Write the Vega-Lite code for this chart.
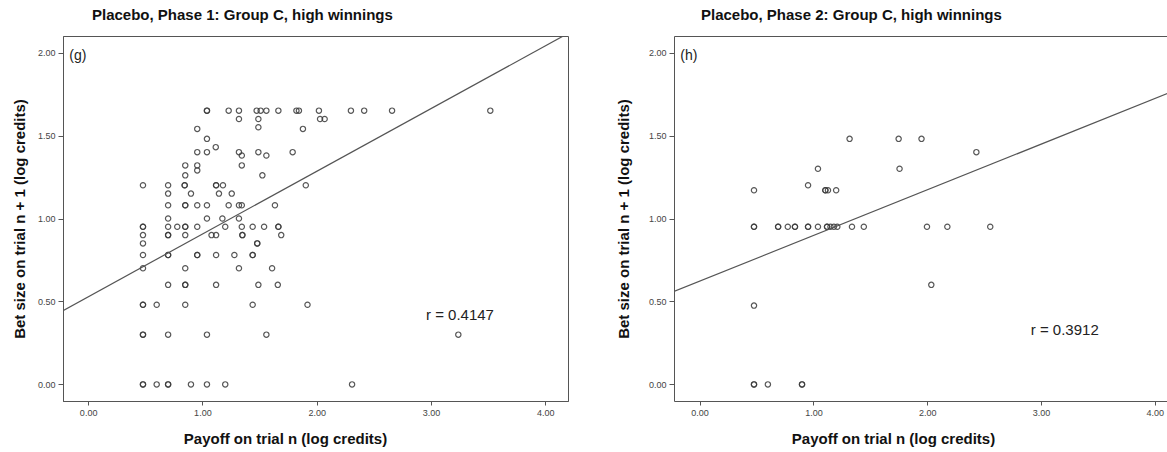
{
  "$schema": "https://vega.github.io/schema/vega-lite/v6.json",
  "padding": {"left": 11, "top": 7, "right": 0, "bottom": 0},
  "spacing": 47,
  "config": {
    "font": "Liberation Sans",
    "view": {"stroke": "#555", "strokeWidth": 1},
    "axis": {
      "labelFont": "Liberation Sans", "labelFontSize": 9, "labelColor": "#444",
      "titleFont": "Liberation Sans", "titleFontSize": 15, "titleFontWeight": "bold", "titleColor": "#111",
      "domainColor": "#555", "tickColor": "#555", "tickSize": 5, "grid": false, "labelPadding": 3
    },
    "title": {"font": "Liberation Sans", "fontSize": 15, "fontWeight": "bold", "color": "#111", "anchor": "start", "frame": "group", "offset": 13}
  },
  "datasets": {
    "g": [
      {"x": 0.48, "y": 0}, {"x": 0.48, "y": 0}, {"x": 0.60, "y": 0}, {"x": 0.70, "y": 0}, {"x": 0.70, "y": 0}, {"x": 0.90, "y": 0}, {"x": 1.04, "y": 0}, {"x": 1.20, "y": 0}, {"x": 2.31, "y": 0},
      {"x": 0.48, "y": 0.30}, {"x": 0.48, "y": 0.30}, {"x": 0.70, "y": 0.30}, {"x": 1.04, "y": 0.30}, {"x": 1.56, "y": 0.30}, {"x": 3.24, "y": 0.30},
      {"x": 0.48, "y": 0.48}, {"x": 0.48, "y": 0.48}, {"x": 0.60, "y": 0.48}, {"x": 0.85, "y": 0.48}, {"x": 1.44, "y": 0.48}, {"x": 1.92, "y": 0.48},
      {"x": 0.70, "y": 0.60}, {"x": 0.85, "y": 0.60}, {"x": 0.85, "y": 0.60}, {"x": 1.12, "y": 0.60}, {"x": 1.49, "y": 0.60}, {"x": 1.66, "y": 0.60},
      {"x": 0.48, "y": 0.70}, {"x": 0.85, "y": 0.70}, {"x": 1.32, "y": 0.70}, {"x": 1.61, "y": 0.70},
      {"x": 0.48, "y": 0.78}, {"x": 0.70, "y": 0.78}, {"x": 0.70, "y": 0.78}, {"x": 0.955, "y": 0.78}, {"x": 0.955, "y": 0.78}, {"x": 1.12, "y": 0.78}, {"x": 1.28, "y": 0.78}, {"x": 1.44, "y": 0.78}, {"x": 1.44, "y": 0.78},
      {"x": 0.48, "y": 0.85}, {"x": 1.48, "y": 0.85}, {"x": 1.48, "y": 0.85},
      {"x": 0.48, "y": 0.90}, {"x": 0.70, "y": 0.90}, {"x": 0.70, "y": 0.90}, {"x": 0.85, "y": 0.90}, {"x": 1.08, "y": 0.90}, {"x": 1.12, "y": 0.90}, {"x": 1.35, "y": 0.90}, {"x": 1.35, "y": 0.90}, {"x": 1.69, "y": 0.90},
      {"x": 0.48, "y": 0.95}, {"x": 0.48, "y": 0.95}, {"x": 0.70, "y": 0.95}, {"x": 0.78, "y": 0.95}, {"x": 0.85, "y": 0.95}, {"x": 0.85, "y": 0.95}, {"x": 0.955, "y": 0.95}, {"x": 1.20, "y": 0.95}, {"x": 1.345, "y": 0.95}, {"x": 1.44, "y": 0.95}, {"x": 1.54, "y": 0.95}, {"x": 1.665, "y": 0.95}, {"x": 1.665, "y": 0.95},
      {"x": 0.70, "y": 1.0}, {"x": 1.04, "y": 1.0}, {"x": 1.175, "y": 1.0}, {"x": 1.32, "y": 1.0},
      {"x": 0.70, "y": 1.08}, {"x": 0.85, "y": 1.08}, {"x": 0.85, "y": 1.08}, {"x": 0.955, "y": 1.08}, {"x": 1.04, "y": 1.08}, {"x": 1.23, "y": 1.08}, {"x": 1.32, "y": 1.08}, {"x": 1.345, "y": 1.08}, {"x": 1.635, "y": 1.08},
      {"x": 0.70, "y": 1.15}, {"x": 0.90, "y": 1.15}, {"x": 1.145, "y": 1.15}, {"x": 1.257, "y": 1.15},
      {"x": 0.48, "y": 1.20}, {"x": 0.70, "y": 1.20}, {"x": 0.845, "y": 1.20}, {"x": 0.845, "y": 1.20}, {"x": 1.12, "y": 1.20}, {"x": 1.12, "y": 1.20}, {"x": 1.18, "y": 1.20}, {"x": 1.905, "y": 1.20},
      {"x": 0.85, "y": 1.26}, {"x": 1.525, "y": 1.26},
      {"x": 0.85, "y": 1.32}, {"x": 0.955, "y": 1.32}, {"x": 0.955, "y": 1.29}, {"x": 1.345, "y": 1.32},
      {"x": 1.345, "y": 1.38}, {"x": 1.56, "y": 1.38},
      {"x": 0.955, "y": 1.40}, {"x": 1.04, "y": 1.40}, {"x": 1.32, "y": 1.40}, {"x": 1.49, "y": 1.40}, {"x": 1.79, "y": 1.40},
      {"x": 1.117, "y": 1.43}, {"x": 1.04, "y": 1.48},
      {"x": 0.955, "y": 1.54}, {"x": 1.88, "y": 1.54}, {"x": 1.49, "y": 1.55},
      {"x": 1.32, "y": 1.60}, {"x": 1.49, "y": 1.60}, {"x": 2.03, "y": 1.60}, {"x": 2.07, "y": 1.60},
      {"x": 1.04, "y": 1.65}, {"x": 1.04, "y": 1.65}, {"x": 1.23, "y": 1.65}, {"x": 1.32, "y": 1.65}, {"x": 1.475, "y": 1.65}, {"x": 1.51, "y": 1.65}, {"x": 1.56, "y": 1.65}, {"x": 1.665, "y": 1.65}, {"x": 1.823, "y": 1.65}, {"x": 1.845, "y": 1.65}, {"x": 2.02, "y": 1.65}, {"x": 2.30, "y": 1.65}, {"x": 2.416, "y": 1.65}, {"x": 2.66, "y": 1.65}, {"x": 3.52, "y": 1.65}
    ],
    "h": [
      {"x": 1.318, "y": 1.48}, {"x": 1.749, "y": 1.48}, {"x": 1.95, "y": 1.48}, {"x": 2.432, "y": 1.40},
      {"x": 1.04, "y": 1.30}, {"x": 1.757, "y": 1.30}, {"x": 0.953, "y": 1.20},
      {"x": 0.478, "y": 1.17}, {"x": 1.105, "y": 1.17}, {"x": 1.105, "y": 1.17}, {"x": 1.128, "y": 1.17}, {"x": 1.20, "y": 1.17},
      {"x": 0.478, "y": 0.95}, {"x": 0.478, "y": 0.95}, {"x": 0.69, "y": 0.95}, {"x": 0.69, "y": 0.95}, {"x": 0.775, "y": 0.95}, {"x": 0.838, "y": 0.95}, {"x": 0.838, "y": 0.95}, {"x": 0.953, "y": 0.95}, {"x": 0.953, "y": 0.95}, {"x": 1.04, "y": 0.95}, {"x": 1.12, "y": 0.95}, {"x": 1.12, "y": 0.95}, {"x": 1.15, "y": 0.95}, {"x": 1.18, "y": 0.95}, {"x": 1.21, "y": 0.95}, {"x": 1.339, "y": 0.95}, {"x": 1.443, "y": 0.95}, {"x": 1.998, "y": 0.95}, {"x": 2.177, "y": 0.95}, {"x": 2.554, "y": 0.95},
      {"x": 2.036, "y": 0.60}, {"x": 0.478, "y": 0.475},
      {"x": 0.478, "y": 0}, {"x": 0.478, "y": 0}, {"x": 0.60, "y": 0}, {"x": 0.90, "y": 0}, {"x": 0.90, "y": 0}
    ],
    "gline": [{"x": -0.22, "y": 0.4448}, {"x": 4.2, "y": 2.1156}],
    "hline": [{"x": -0.225, "y": 0.5606}, {"x": 4.12, "y": 1.7559}],
    "glab": [{"x": -0.165, "y": 1.98, "t": "(g)", "s": 14}, {"x": 2.957, "y": 0.42, "t": "r = 0.4147", "s": 15}],
    "hlab": [{"x": -0.17, "y": 1.98, "t": "(h)", "s": 14}, {"x": 2.91, "y": 0.326, "t": "r = 0.3912", "s": 15}]
  },
  "hconcat": [
    {
      "title": {"text": "Placebo, Phase 1: Group C, high winnings", "dx": 29},
      "width": 505,
      "height": 365,
      "layer": [
        {
          "data": {"name": "g"},
          "mark": {"type": "point", "shape": "circle", "filled": false, "size": 28, "stroke": "#3a3a3a", "strokeWidth": 1.2, "opacity": 0.85},
          "encoding": {
            "x": {"field": "x", "type": "quantitative", "scale": {"domain": [-0.22, 4.2], "nice": false, "zero": false},
                  "axis": {"values": [0, 1, 2, 3, 4], "format": ".2f", "title": "Payoff on trial n (log credits)", "titleX": 222, "titlePadding": 14, "tickSize": 4}},
            "y": {"field": "y", "type": "quantitative", "scale": {"domain": [-0.1, 2.1], "nice": false, "zero": false},
                  "axis": {"values": [0, 0.5, 1, 1.5, 2], "format": ".2f", "title": "Bet size on trial n + 1 (log credits)", "titlePadding": 10}}
          }
        },
        {
          "data": {"name": "gline"},
          "mark": {"type": "line", "color": "#555", "strokeWidth": 1.2, "clip": true},
          "encoding": {"x": {"field": "x", "type": "quantitative"}, "y": {"field": "y", "type": "quantitative"}}
        },
        {
          "data": {"name": "glab"},
          "mark": {"type": "text", "align": "left", "baseline": "middle", "color": "#222", "font": "Liberation Sans"},
          "encoding": {"x": {"field": "x", "type": "quantitative"}, "y": {"field": "y", "type": "quantitative"}, "text": {"field": "t"}, "size": {"field": "s", "type": "quantitative", "scale": null}}
        }
      ]
    },
    {
      "title": {"text": "Placebo, Phase 2: Group C, high winnings", "dx": 27},
      "width": 494,
      "height": 365,
      "view": {"stroke": null},
      "resolve": {"axis": {"x": "independent"}},
      "layer": [
        {
          "data": {"name": "h"},
          "mark": {"type": "point", "shape": "circle", "filled": false, "size": 28, "stroke": "#3a3a3a", "strokeWidth": 1.2, "opacity": 0.85},
          "encoding": {
            "x": {"field": "x", "type": "quantitative", "scale": {"domain": [-0.225, 4.116], "nice": false, "zero": false},
                  "axis": {"values": [0, 1, 2, 3, 4], "format": ".2f", "title": "Payoff on trial n (log credits)", "titleX": 219, "titlePadding": 14, "tickSize": 4}},
            "y": {"field": "y", "type": "quantitative", "scale": {"domain": [-0.1, 2.1], "nice": false, "zero": false},
                  "axis": {"values": [0, 0.5, 1, 1.5, 2], "format": ".2f", "title": "Bet size on trial n + 1 (log credits)", "titlePadding": 17}}
          }
        },
        {
          "data": {"name": "hline"},
          "mark": {"type": "line", "color": "#555", "strokeWidth": 1.2, "clip": true},
          "encoding": {
            "x": {"field": "x", "type": "quantitative", "axis": {"orient": "top", "labels": false, "ticks": false, "title": null, "domain": true}},
            "y": {"field": "y", "type": "quantitative"}
          }
        },
        {
          "data": {"name": "hlab"},
          "mark": {"type": "text", "align": "left", "baseline": "middle", "color": "#222", "font": "Liberation Sans"},
          "encoding": {"x": {"field": "x", "type": "quantitative", "axis": null}, "y": {"field": "y", "type": "quantitative"}, "text": {"field": "t"}, "size": {"field": "s", "type": "quantitative", "scale": null}}
        }
      ]
    }
  ]
}
